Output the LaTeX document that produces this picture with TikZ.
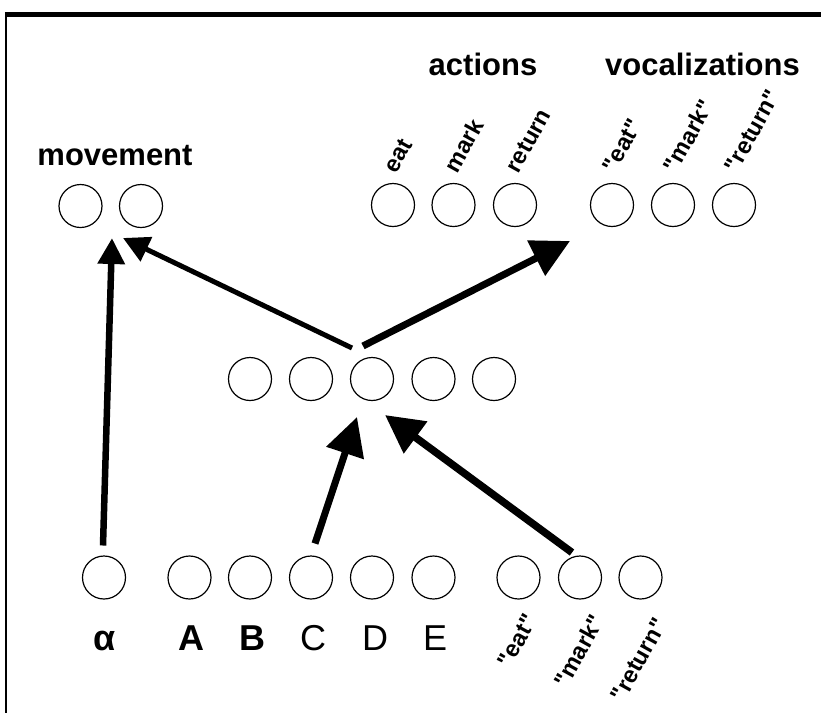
\documentclass[tikz,border=0pt]{standalone}
\usepackage{fontspec}
\setmainfont{Liberation Sans}[Ligatures=TeXOff]
\usetikzlibrary{arrows.meta,calc}

\tikzset{
  unit/.style={circle,draw,line width=1.2pt,minimum size=43pt},
  group/.style={font=\fontsize{31}{31}\selectfont\bfseries,anchor=base},
  tag/.style={font=\fontsize{23.5}{23.5}\selectfont\bfseries,rotate=61},
  letter/.style={font=\fontsize{36}{36}\selectfont,anchor=base},
  thinlink/.style={line width=#1,-{Triangle[length=26pt,width=26pt]}},
  thicklink/.style={line width=#1,-{Triangle[length=38pt,width=38pt]}}
}

\begin{document}
\begin{tikzpicture}[x=1pt,y=-1pt,every node/.style={inner sep=0,outer sep=1}]
    \useasboundingbox (0,0) rectangle (821,713);
    % frame
    \draw[line width=4.5pt] (4.8,14.5) -- (821,14.5);
    \draw[line width=2.3pt] (6,14.5) -- (6,713);

    % output units
    \node[unit](m1) at (80.5,206) {};
    \node[unit](m2) at (141,206) {};
    \node[unit](act1) at (393,205) {};
    \node[unit](act2) at (453.5,205) {};
    \node[unit](act3) at (515,205) {};
    \node[unit](voc1) at (612,205) {};
    \node[unit](voc2) at (673,205) {};
    \node[unit](voc3) at (734,205) {};
    \node[group](movement) at (115,165) {movement};
    \node[group](actions) at (483,75) {actions};
    \node[group](vocalizations) at (702.5,75) {vocalizations};
    \node[tag,anchor=base west] at (396,175) {eat};
    \node[tag,anchor=base west] at (457,175) {mark};
    \node[tag,anchor=base west] at (518,175) {return};
    \node[tag,anchor=base west] at (615,175) {"eat"};
    \node[tag,anchor=base west] at (676,175) {"mark"};
    \node[tag,anchor=base west] at (737,175) {"return"};

    % hidden units
    \node[unit](h1) at (250,379) {};
    \node[unit](h2) at (311,379) {};
    \node[unit](h3) at (372,379) {};
    \node[unit](h4) at (433.5,379) {};
    \node[unit](h5) at (494,379) {};

    % input units
    \node[unit](in0) at (104,577.5) {};
    \node[unit](inA) at (189.5,577.5) {};
    \node[unit](inB) at (250,577.5) {};
    \node[unit](inC) at (311,577.5) {};
    \node[unit](inD) at (372,577.5) {};
    \node[unit](inE) at (433.5,577.5) {};
    \node[unit](inq1) at (518.5,577.5) {};
    \node[unit](inq2) at (580,577.5) {};
    \node[unit](inq3) at (640.5,577.5) {};
    \node[letter] at (105,650) {\bfseries α};
    \node[letter] at (191.5,650) {\bfseries A};
    \node[letter] at (252.5,650) {\bfseries B};
    \node[letter] at (313,650) {C};
    \node[letter] at (375,650) {D};
    \node[letter] at (435,650) {E};
    \node[tag,anchor=north east] at (523,611) {"eat"};
    \node[tag,anchor=north east] at (590,611) {"mark"};
    \node[tag,anchor=north east] at (653,615) {"return"};

    % connections
    \draw[thinlink=6.5pt] ($(in0)+(-1,-32)$) -- ($(m1)+(31.5,32)$);
    \draw[thinlink=5pt] ($(h3)+(-20,-31)$) -- ($(m2)+(-18,32)$);
    \draw[thicklink=7pt] ($(h3)+(-9,-33)$) -- ($(voc1)+(-42,36)$);
    \draw[thicklink=7pt] ($(inC)+(4,-34)$) -- ($(h3)+(-15,38)$);
    \draw[thicklink=7.5pt] ($(inq2)+(-8,-25)$) -- ($(h3)+(13,36)$);
\end{tikzpicture}
\end{document}
